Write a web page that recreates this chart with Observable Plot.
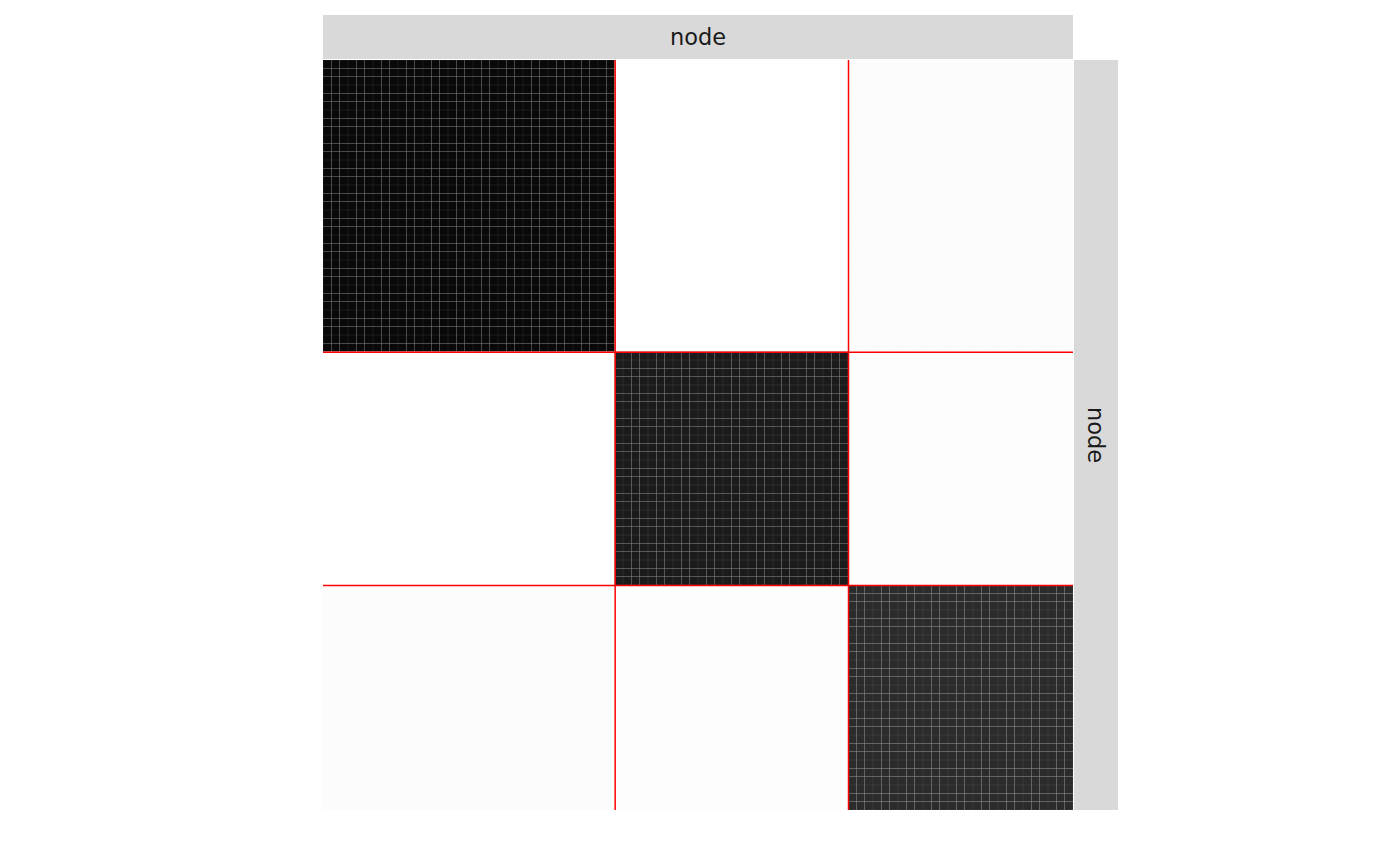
<!DOCTYPE html>
<html>
<head>
<meta charset="utf-8">
<script src="https://cdn.jsdelivr.net/npm/d3@7"></script>
<script src="https://cdn.jsdelivr.net/npm/@observablehq/plot@0.6"></script>
<style>
  html, body { margin: 0; padding: 0; background: #fff; }
  svg { display: block; }
</style>
</head>
<body>
<div id="chart"></div>
<script>
// Block memberships (number of nodes per block, in matrix order)
const blockSizes = [35, 28, 27];
// Block-to-block connection probabilities (row block x column block)
const connectivity = [
  [0.965, 0.00, 0.012],
  [0.00, 0.894, 0.008],
  [0.012, 0.008, 0.83]
];
const stripLabel = "node";

// Build node -> block mapping
const nodeBlock = [];
blockSizes.forEach((s, b) => { for (let i = 0; i < s; i++) nodeBlock.push(b); });
const n = nodeBlock.length;

const cells = [];
for (let r = 0; r < n; r++) {
  for (let c = 0; c < n; c++) {
    cells.push({row: r, col: c, value: connectivity[nodeBlock[r]][nodeBlock[c]]});
  }
}
// Block boundaries
const boundaries = [];
let acc = 0;
for (let b = 0; b < blockSizes.length - 1; b++) { acc += blockSizes[b]; boundaries.push(acc); }

const W = 1400, H = 866;
const mL = 323, mR = 1400 - 1073, mT = 60, mB = 866 - 810;

const plot = Plot.plot({
  width: W,
  height: H,
  marginLeft: mL,
  marginRight: mR,
  marginTop: mT,
  marginBottom: mB,
  x: {domain: [0, n], axis: null},
  y: {domain: [0, n], reverse: true, axis: null},
  color: {type: "linear", domain: [0, 1], range: ["#ffffff", "#000000"], interpolate: "rgb"},
  style: {background: "#fff"},
  marks: [
    Plot.rect(cells, {
      x1: "col", x2: d => d.col + 1,
      y1: "row", y2: d => d.row + 1,
      fill: "value",
      inset: 0.04
    }),
    Plot.ruleX(boundaries, {x: d => d, stroke: "#ff0000", strokeWidth: 1.5}),
    Plot.ruleY(boundaries, {y: d => d, stroke: "#ff0000", strokeWidth: 1.5})
  ]
});

document.getElementById("chart").appendChild(plot);

// Facet strips (decoration)
const svg = d3.select(plot);
const px1 = mL, px2 = W - mR, py1 = mT, py2 = H - mB;
const topStrip = svg.append("g");
topStrip.append("rect").attr("x", px1).attr("y", 15).attr("width", px2 - px1).attr("height", 44).attr("fill", "#d9d9d9");
topStrip.append("text").attr("x", (px1 + px2) / 2).attr("y", 37).attr("text-anchor", "middle")
  .attr("dominant-baseline", "central").style("font-family", "DejaVu Sans, sans-serif")
  .style("font-size", "22.5px").attr("fill", "#1a1a1a").text(stripLabel);
const rightStrip = svg.append("g");
rightStrip.append("rect").attr("x", px2 + 1).attr("y", py1).attr("width", 44).attr("height", py2 - py1).attr("fill", "#d9d9d9");
rightStrip.append("text").attr("transform", `translate(${px2 + 23},${(py1 + py2) / 2}) rotate(90)`)
  .attr("text-anchor", "middle").attr("dominant-baseline", "central")
  .style("font-family", "DejaVu Sans, sans-serif").style("font-size", "22.5px").attr("fill", "#1a1a1a").text(stripLabel);
</script>
</body>
</html>
